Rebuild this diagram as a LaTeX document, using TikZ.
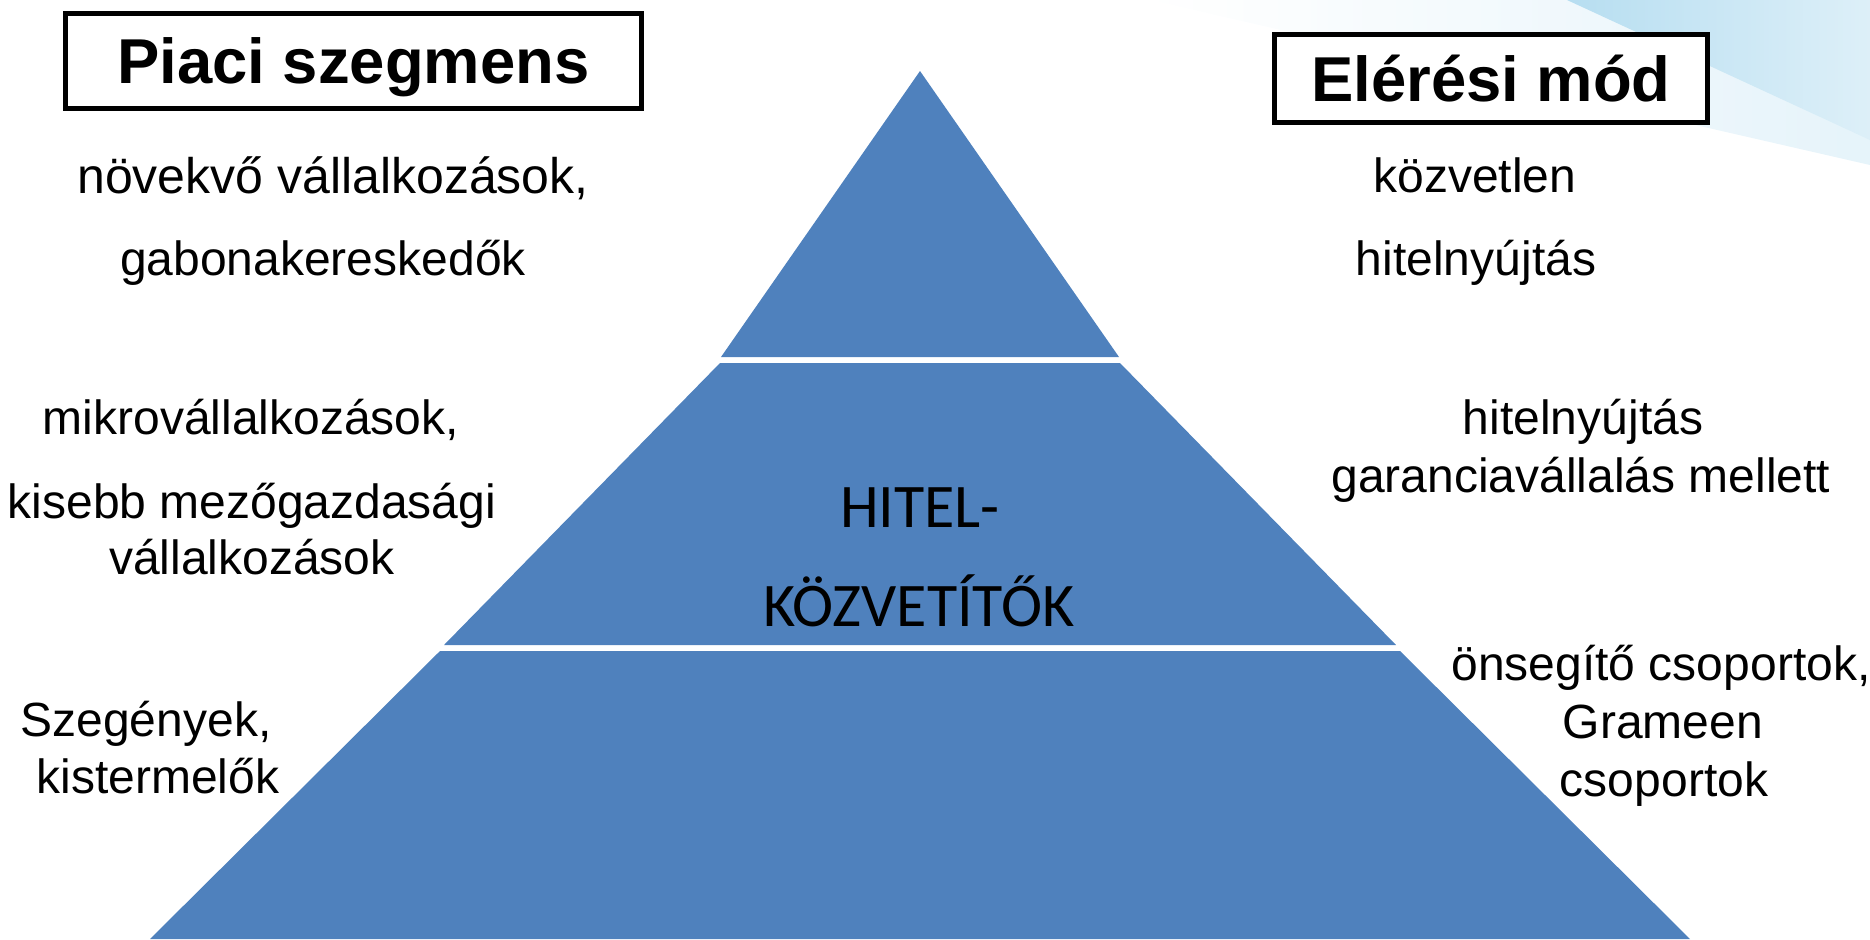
\documentclass[tikz,border=0pt]{standalone}
\usepackage{fontspec}
\setmainfont{Liberation Sans}
\newfontfamily\calibrifont{Carlito}
\definecolor{tierblue}{RGB}{79,129,189}
\definecolor{swoosh}{RGB}{170,216,238}
\begin{document}
\begin{tikzpicture}[x=0.5pt,y=-0.5pt,
  tier/.style={fill=tierblue},
  titlebox/.style={draw=black,line width=2.5pt,fill=white,inner sep=0pt,
    text height=22.5pt,text depth=0pt,
    font=\fontsize{31.7}{38}\selectfont\bfseries},
  lbl/.style={anchor=mid,inner sep=0pt,font=\fontsize{24}{29}\selectfont},
  midlbl/.style={anchor=mid,inner sep=0pt,font=\calibrifont\fontsize{31}{37}\selectfont}]
\useasboundingbox (0,0) rectangle (1870,939);
% background swoosh (top right)
\shade[left color=white,right color=swoosh!50,opacity=0.6] (1150,0) -- (1870,0) -- (1870,165) -- cycle;
\shade[left color=swoosh!85,right color=swoosh!40] (1567,0) -- (1870,0) -- (1870,140) -- cycle;
% pyramid tiers
\fill[tier] (920,71) -- (1119,357) -- (721,357) -- cycle;
\fill[tier] (720,363) -- (1120,363) -- (1396,645) -- (444,645) -- cycle;
\fill[tier] (440,651) -- (1400,651) -- (1690,939) -- (150,939) -- cycle;
% titles
\node[titlebox,minimum width=288pt,minimum height=47.5pt] (t1) at (353.5,61) {Piaci szegmens};
\node[titlebox,minimum width=216.5pt,minimum height=44pt] (t2) at (1491,78.5) {Elérési mód};
% middle label
\node[midlbl] (m1) at (920,522) {HITEL-};
\node[midlbl] (m2) at (919,621) {KÖZVETÍTŐK};
% left labels
\node[lbl,font=\fontsize{25}{30}\selectfont] (l1) at (333,188) {növekvő vállalkozások,};
\node[lbl] (l2) at (323,270) {gabonakereskedők};
\node[lbl] (l3) at (251,429) {mikrovállalkozások,};
\node[lbl] (l4) at (252,513) {kisebb mezőgazdasági};
\node[lbl] (l5) at (252,569) {vállalkozások};
\node[lbl] (l6) at (146,731) {Szegények,};
\node[lbl] (l7) at (158,788) {kistermelők};
% right labels
\node[lbl] (r1) at (1475,187) {közvetlen};
\node[lbl] (r2) at (1476,270) {hitelnyújtás};
\node[lbl] (r3) at (1583,429) {hitelnyújtás};
\node[lbl] (r4) at (1581,487) {garanciavállalás mellett};
\node[lbl] (r5) at (1661,675) {önsegítő csoportok,};
\node[lbl] (r6) at (1663,733) {Grameen};
\node[lbl] (r7) at (1664,791) {csoportok};
\end{tikzpicture}
\end{document}
